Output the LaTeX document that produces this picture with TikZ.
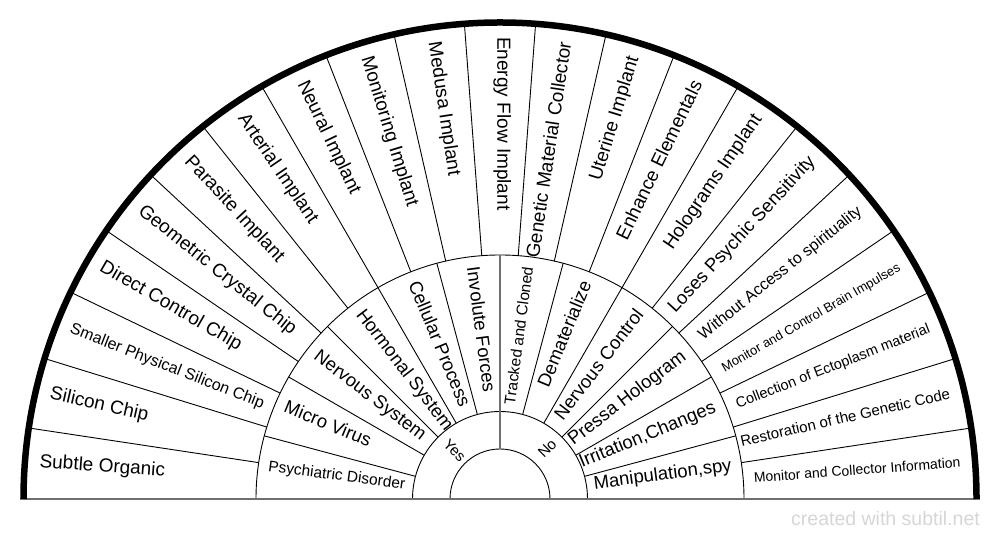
\documentclass[tikz,border=0pt]{standalone}
\usepackage{fontspec}
\setmainfont{Liberation Sans}
\usetikzlibrary{calc}

\begin{document}
\begin{tikzpicture}[x=1pt,y=1pt,
    rayon/.style={line width=0.9pt},
    axe/.style={line width=1.6pt,black!56},
    etiq/.style={inner sep=0pt,font=\fontsize{#1}{#1}\selectfont}]
  % Cadre
  \useasboundingbox (0,0) rectangle (1000,540);

  % Centre du demi-disque
  \coordinate (O) at (500,41);

  % Cercles
  \draw[rayon] ($(O)+(180:50)$) arc[start angle=180,end angle=0,radius=50];
  \draw[rayon] ($(O)+(180:87.5)$) arc[start angle=180,end angle=0,radius=87.5];
  \draw[rayon] ($(O)+(180:244)$) arc[start angle=180,end angle=0,radius=244];

  % Rayons de la couronne exterieure (21 secteurs)
  \foreach \k in {1,...,20}
    \draw[rayon] ($(O)+({180-\k*180/21}:244)$) -- ($(O)+({180-\k*180/21}:476)$);

  % Rayons de la couronne du milieu (12 secteurs)
  \foreach \k in {1,...,5,7,8,...,11}
    \draw[rayon] ($(O)+({180-\k*15}:87.5)$) -- ($(O)+({180-\k*15}:244)$);

  % Axe vertical et base
  \draw[axe] ($(O)+(90:50)$) -- ($(O)+(90:244)$);
  \draw[axe] (20,41) -- (980,41);

  % Bord epais
  \draw[line width=6.5pt] ($(O)+(180:476.5)$) arc[start angle=180,end angle=0,radius=476.5];

  % Etiquettes exterieures
  \foreach \i/\t/\s in {0/Subtle Organic/19, 1/Silicon Chip/19,
      2/Smaller Physical Silicon Chip/16, 3/Direct Control Chip/19,
      4/Geometric Crystal Chip/19, 5/Parasite Implant/19, 6/Arterial Implant/19,
      7/Neural Implant/19, 8/Monitoring Implant/19, 9/Medusa Implant/19,
      10/Energy Flow Implant/19}
    \node[etiq=\s, anchor=mid west, rotate={-(\i+0.5)*180/21}] (ext\i)
      at ($(O)+({180-(\i+0.5)*180/21}:462)$) {\t};
  \foreach \i/\t/\s in {11/Genetic Material Collector/19, 12/Uterine Implant/19,
      13/Enhance Elementals/19, 14/Holograms Implant/19,
      15/Loses Psychic Sensitivity/18.5, 16/Without Access to spirituality/16,
      17/Monitor and Control Brain Impulses/13,
      18/Collection of Ectoplasm material/14.5,
      19/Restoration of the Genetic Code/15,
      20/Monitor and Collector Information/14}
    \node[etiq=\s, anchor=mid east, rotate={180-(\i+0.5)*180/21}] (ext\i)
      at ($(O)+({180-(\i+0.5)*180/21}:462)$) {\t};

  % Etiquettes du milieu
  \foreach \i/\t/\s in {0/Psychiatric Disorder/15.5, 1/Micro Virus/18.5,
      2/Nervous System/18.5, 3/Hormonal System/18.5, 4/Cellular Process/18.5,
      5/Involute Forces/18.5}
    \node[etiq=\s, anchor=mid west, rotate={-(\i+0.5)*15}] (mil\i)
      at ($(O)+({180-(\i+0.5)*15}:234)$) {\t};
  \foreach \i/\t/\s in {6/Tracked and Cloned/15.5, 7/Dematerialize/18.5,
      8/Nervous Control/18.5, 9/Pressa Hologram/18.5,
      10/{Irritation,Changes}/18.5, 11/{Manipulation,spy}/18.5}
    \node[etiq=\s, anchor=mid east, rotate={180-(\i+0.5)*15}] (mil\i)
      at ($(O)+({180-(\i+0.5)*15}:234)$) {\t};

  % Oui / Non
  \node[etiq=15, anchor=mid west, rotate=-45] (oui) at ($(O)+(135:79)$) {Yes};
  \node[etiq=15, anchor=mid east, rotate=45] (non) at ($(O)+(45:79)$) {No};

  % Signature
  \node[etiq=19.5, anchor=base east, text=black!16] (credit) at (980,14) {created with subtil.net};
\end{tikzpicture}
\end{document}
